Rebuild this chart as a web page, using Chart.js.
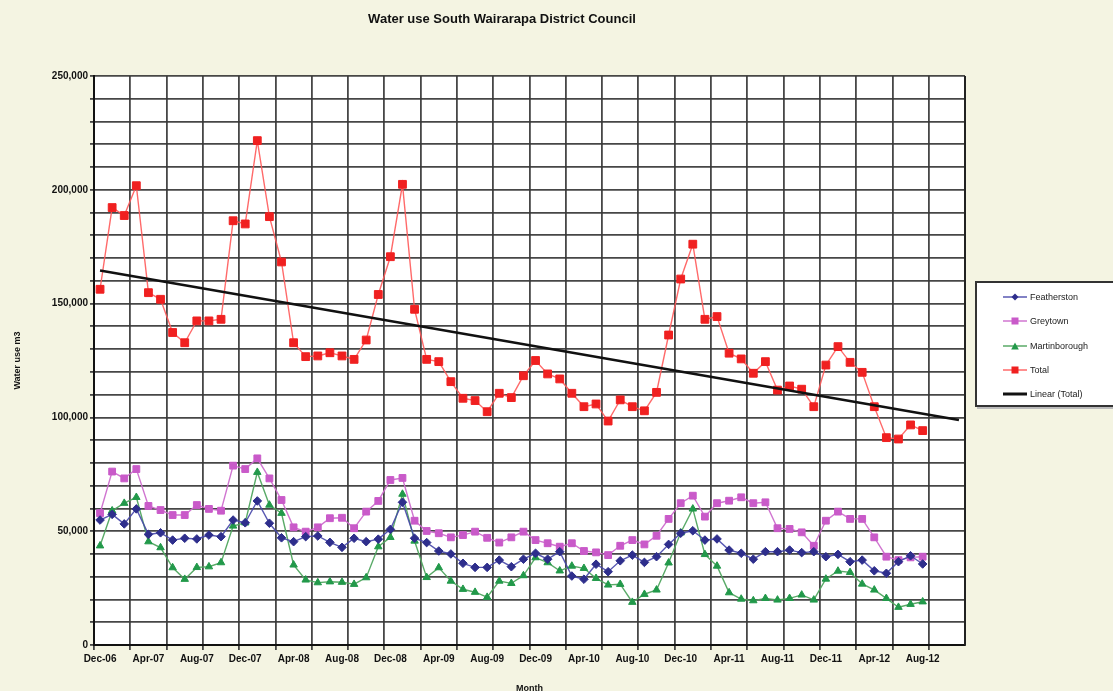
<!DOCTYPE html>
<html>
<head>
<meta charset="utf-8">
<title>Water use South Wairarapa District Council</title>
<script src="https://cdn.jsdelivr.net/npm/chart.js@4.4.1/dist/chart.umd.min.js"></script>
<style>
  html, body { margin: 0; padding: 0; background: #f4f4e2; overflow: hidden; }
  #wrap { position: relative; width: 1113px; height: 691px; }
  #titulo {
    position: absolute; left: 0; top: 11px; width: 1004px; text-align: center;
    font: bold 13px "Liberation Sans Narrow", "Liberation Sans", Arial, sans-serif; color: #111;
  }
  #leyenda {
    position: absolute; left: 975px; top: 281px; width: 150px; height: 122px;
    background: #fff; border: 2px solid #333; box-shadow: 2px 2px 0 #bbb;
    font: 9px "Liberation Sans", Arial, sans-serif; color: #222;
  }
  .item { position: absolute; left: 26px; height: 12px; display: flex; align-items: center; }
  .item svg { margin-right: 3px; }
</style>
</head>
<body>
<div id="wrap">
  <canvas id="lineChart" width="1113" height="691"></canvas>
  <div id="titulo">Water use South Wairarapa District Council</div>
  <div id="leyenda"></div>
</div>
<script>
// Meses (72 categorias: los datos llegan a Aug-12, la tendencia sigue 3 meses mas)
var meses = ['Dec-06',
  'Jan-07','Feb-07','Mar-07','Apr-07','May-07','Jun-07','Jul-07','Aug-07','Sep-07','Oct-07','Nov-07','Dec-07',
  'Jan-08','Feb-08','Mar-08','Apr-08','May-08','Jun-08','Jul-08','Aug-08','Sep-08','Oct-08','Nov-08','Dec-08',
  'Jan-09','Feb-09','Mar-09','Apr-09','May-09','Jun-09','Jul-09','Aug-09','Sep-09','Oct-09','Nov-09','Dec-09',
  'Jan-10','Feb-10','Mar-10','Apr-10','May-10','Jun-10','Jul-10','Aug-10','Sep-10','Oct-10','Nov-10','Dec-10',
  'Jan-11','Feb-11','Mar-11','Apr-11','May-11','Jun-11','Jul-11','Aug-11','Sep-11','Oct-11','Nov-11','Dec-11',
  'Jan-12','Feb-12','Mar-12','Apr-12','May-12','Jun-12','Jul-12','Aug-12','Sep-12','Oct-12','Nov-12'];

var featherston = [54900, 57400, 53200, 59800, 48600, 49300, 46100, 46900, 46600, 48300, 47600, 54900,
  53700, 63300, 53500, 47100, 45400, 47600, 47900, 45100, 42900, 46900, 45400, 46500,
  50800, 62700, 46900, 45000, 41300, 40000, 35900, 34100, 34100, 37300, 34400, 37700,
  40300, 37700, 41000, 30300, 28900, 35500, 32200, 37000, 39500, 36300, 38800, 44200,
  49100, 50200, 46100, 46600, 41700, 40300, 37700, 41000, 41000, 41700, 40600, 41000,
  38800, 39800, 36600, 37300, 32600, 31500, 36600, 39200, 35600];

var greytown = [57900, 76200, 73200, 77300, 61100, 59300, 57100, 57100, 61500, 59800, 59000, 78800,
  77300, 82000, 73200, 63700, 51700, 49800, 51700, 55700, 55900, 51300, 58600, 63300,
  72500, 73400, 54600, 50100, 49100, 47300, 48300, 49800, 47100, 45000, 47300, 49800,
  46100, 44700, 43200, 44700, 41300, 40700, 39500, 43600, 46100, 44200, 48000, 55400,
  62300, 65600, 56400, 62300, 63400, 64900, 62300, 62700, 51300, 51000, 49500, 43600,
  54600, 58600, 55400, 55400, 47300, 38800, 37300, 38500, 38800];

var martinborough = [43600, 59000, 62300, 64900, 45400, 42800, 34000, 28900, 34100, 34400, 36200, 52300,
  53700, 75900, 61500, 57900, 35200, 28600, 27400, 27800, 27600, 26700, 29600, 43200,
  47300, 66300, 45700, 29700, 34000, 28100, 24500, 23200, 21000, 28100, 27100, 30500,
  38400, 36200, 32600, 34700, 33700, 29300, 26400, 26700, 18800, 22300, 24200, 36100,
  49300, 59800, 39800, 34700, 23000, 20200, 19500, 20500, 19800, 20500, 22000, 19800,
  29000, 32500, 31900, 26800, 24200, 20500, 16600, 17900, 19000];

var total = [156300, 192200, 188700, 201800, 154800, 151900, 137300, 132800, 142400, 142400, 143100, 186400,
  185000, 221600, 188200, 168300, 132800, 126700, 127000, 128400, 127000, 125500, 134000, 154000,
  170600, 202400, 147500, 125500, 124500, 115700, 108400, 107400, 102500, 110600, 108700, 118300,
  125000, 119100, 116900, 110600, 104700, 105900, 98400, 107700, 104700, 102900, 111000, 136200,
  160800, 176100, 143100, 144300, 128200, 125700, 119400, 124500, 112000, 113800, 112400, 104700,
  123000, 131100, 124200, 119800, 104700, 91100, 90500, 96700, 94200];

// Extremos de la recta "Linear (Total)" (Dec-06 y Nov-12)
var tendencia = [164500, 98900];

var yTicks = [0, 50000, 100000, 150000, 200000, 250000];

var colores = {
  featherston: { linea: 'rgba(70,70,170,0.9)', punto: '#2e2e8c' },
  greytown: { linea: 'rgba(205,110,205,0.95)', punto: '#c95ac9' },
  martinborough: { linea: 'rgba(80,165,95,0.95)', punto: '#22994a' },
  total: { linea: 'rgba(255,90,90,0.9)', punto: '#f02020' }
};

document.addEventListener('DOMContentLoaded', function () {
    crearGrafica();
    crearLeyenda();
});

var fondoPlugin = {
    id: 'fondo',
    beforeDraw: function (chart) {
        var a = chart.chartArea, ctx = chart.ctx;
        ctx.save();
        ctx.fillStyle = '#ffffff';
        ctx.fillRect(a.left, a.top, a.right - a.left, a.bottom - a.top);
        ctx.restore();
    },
    afterDraw: function (chart) {
        var a = chart.chartArea, ctx = chart.ctx;
        ctx.save();
        ctx.strokeStyle = '#222';
        ctx.lineWidth = 2;
        ctx.beginPath();
        ctx.moveTo(a.right, a.top);
        ctx.lineTo(a.right, a.bottom);
        ctx.stroke();
        ctx.restore();
    }
};

function serie(nombre, datos, col, estilo, radio) {
    return {
        label: nombre,
        data: datos,
        borderColor: col.linea,
        backgroundColor: col.punto,
        pointBackgroundColor: col.punto,
        pointBorderColor: col.punto,
        pointBorderWidth: 1,
        pointStyle: estilo,
        pointRadius: radio,
        borderWidth: 1.4,
        tension: 0,
        fill: false
    };
}

function crearGrafica() {
    var ctx = document.getElementById('lineChart').getContext('2d');
    var colorRejilla = 'rgba(55,55,55,0.92)';

    new Chart(ctx, {
        type: 'line',
        data: {
            labels: meses,
            datasets: [
                {
                    label: 'Linear (Total)',
                    data: [{ x: meses[0], y: tendencia[0] }, { x: meses[meses.length - 1], y: tendencia[1] }],
                    borderColor: '#111',
                    borderWidth: 2.5,
                    pointRadius: 0,
                    fill: false
                },
                serie('Featherston', featherston, colores.featherston, 'rectRot', 4.3),
                serie('Greytown', greytown, colores.greytown, 'rect', 4.8),
                serie('Martinborough', martinborough, colores.martinborough, 'triangle', 4.3),
                serie('Total', total, colores.total, 'rect', 5.5)
            ]
        },
        options: {
            responsive: false,
            animation: false,
            devicePixelRatio: 1,
            layout: { padding: { left: 0, right: 148, top: 76, bottom: 0 } },
            plugins: {
                legend: { display: false },
                title: { display: false },
                tooltip: { enabled: false }
            },
            scales: {
                x: {
                    type: 'category',
                    offset: true,
                    afterFit: function (scale) { scale.height = 46; },
                    grid: {
                        offset: true,
                        color: function (c) {
                            return (c.index !== undefined && c.index % 3 === 0) ? colorRejilla : 'rgba(0,0,0,0)';
                        },
                        lineWidth: 1.8,
                        tickLength: 5
                    },
                    border: { color: '#111', width: 2 },
                    ticks: {
                        autoSkip: false,
                        maxRotation: 0,
                        minRotation: 0,
                        padding: 3,
                        color: '#111',
                        font: { family: 'Liberation Sans, Arial, sans-serif', size: 10, weight: 'bold' },
                        callback: function (valor, i) { return i % 4 === 0 ? meses[i] : ''; }
                    },
                    title: {
                        display: true,
                        text: 'Month',
                        color: '#111',
                        font: { family: 'Liberation Sans, Arial, sans-serif', size: 9, weight: 'bold' },
                        padding: { top: 0, bottom: -3 }
                    }
                },
                y: {
                    min: 0,
                    max: 250000,
                    afterFit: function (scale) { scale.width = 94; },
                    grid: { color: colorRejilla, lineWidth: 1.8, tickLength: 4 },
                    border: { color: '#111', width: 2 },
                    ticks: {
                        stepSize: 10000,
                        padding: 2,
                        color: '#111',
                        font: { family: 'Liberation Sans, Arial, sans-serif', size: 10, weight: 'bold' },
                        callback: function (valor) {
                            return yTicks.indexOf(valor) >= 0 ? valor.toLocaleString('en-US') : '';
                        }
                    },
                    title: {
                        display: true,
                        text: 'Water use m3',
                        color: '#111',
                        font: { family: 'Liberation Sans, Arial, sans-serif', size: 9, weight: 'bold' },
                        padding: { top: 12, bottom: 0 }
                    }
                }
            }
        },
        plugins: [fondoPlugin]
    });
}

function crearLeyenda() {
    var items = [
        { texto: 'Featherston', col: colores.featherston, marca: 'diamante' },
        { texto: 'Greytown', col: colores.greytown, marca: 'cuadro' },
        { texto: 'Martinborough', col: colores.martinborough, marca: 'triangulo' },
        { texto: 'Total', col: colores.total, marca: 'cuadro' },
        { texto: 'Linear (Total)', col: { linea: '#111', punto: null }, marca: null }
    ];
    var caja = document.getElementById('leyenda');
    items.forEach(function (it, i) {
        var marca = '';
        if (it.marca === 'diamante') marca = '<polygon points="12,1.5 15.5,5 12,8.5 8.5,5" fill="' + it.col.punto + '"/>';
        if (it.marca === 'cuadro') marca = '<rect x="8.5" y="1.5" width="7" height="7" fill="' + it.col.punto + '"/>';
        if (it.marca === 'triangulo') marca = '<polygon points="12,1.5 15.8,8.5 8.2,8.5" fill="' + it.col.punto + '"/>';
        var grosor = it.marca ? 1.5 : 3;
        var div = document.createElement('div');
        div.className = 'item';
        div.style.top = (8 + i * 24.3) + 'px';
        div.innerHTML = '<svg width="24" height="10"><line x1="0" y1="5" x2="24" y2="5" stroke="' + it.col.linea +
            '" stroke-width="' + grosor + '"/>' + marca + '</svg><span>' + it.texto + '</span>';
        caja.appendChild(div);
    });
}
</script>
</body>
</html>
